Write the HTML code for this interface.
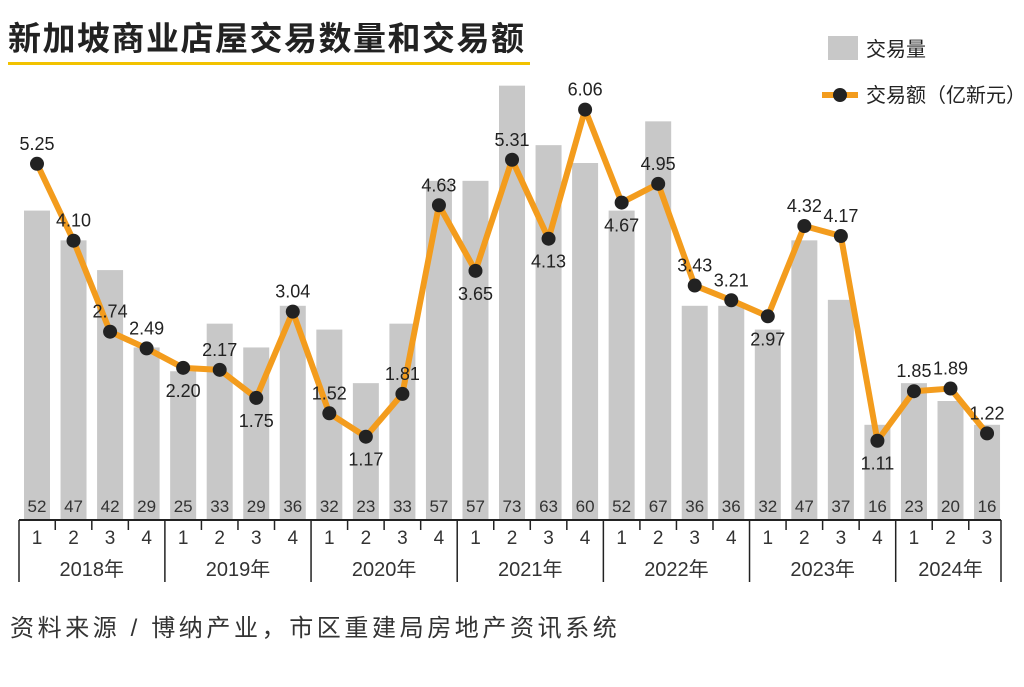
<!DOCTYPE html>
<html><head><meta charset="utf-8"><style>
body{margin:0;background:#fff;}
svg text{font-family:"Liberation Sans","Noto Sans CJK SC",sans-serif;}
</style></head><body>
<svg width="1024" height="682" viewBox="0 0 1024 682">
<text x="8" y="50" font-size="33" font-weight="bold" fill="#222" letter-spacing="1.5">新加坡商业店屋交易数量和交易额</text>
<rect x="8" y="62" width="522" height="3" fill="#f2c200"/>
<g>
<rect x="828" y="36" width="30" height="24" fill="#c8c8c8"/>
<text x="866" y="56" font-size="20" fill="#222">交易量</text>
<line x1="822" y1="95" x2="858" y2="95" stroke="#f39c1d" stroke-width="6"/>
<circle cx="840" cy="95" r="7" fill="#222"/>
<text x="866" y="102" font-size="20" fill="#222">交易额（亿新元）</text>
</g>
<g id="plot"></g>
<text x="10" y="636" font-size="24" fill="#333" letter-spacing="3.6">资料来源 / 博纳产业，市区重建局房地产资讯系统</text>
</svg>
<script>
const volumes=[52,47,42,29,25,33,29,36,32,23,33,57,57,73,63,60,52,67,36,36,32,47,37,16,23,20,16];
const values=[5.25,4.10,2.74,2.49,2.20,2.17,1.75,3.04,1.52,1.17,1.81,4.63,3.65,5.31,4.13,6.06,4.67,4.95,3.43,3.21,2.97,4.32,4.17,1.11,1.85,1.89,1.22];
const valueLabels=["5.25","4.10","2.74","2.49","2.20","2.17","1.75","3.04","1.52","1.17","1.81","4.63","3.65","5.31","4.13","6.06","4.67","4.95","3.43","3.21","2.97","4.32","4.17","1.11","1.85","1.89","1.22"];
const labelBelow=[0,0,0,0,1,0,1,0,0,1,0,0,1,0,1,0,1,0,0,0,1,0,0,1,0,0,0];
const quarters=["1","2","3","4","1","2","3","4","1","2","3","4","1","2","3","4","1","2","3","4","1","2","3","4","1","2","3"];
const years=["2018年","2019年","2020年","2021年","2022年","2023年","2024年"];
const NS="http://www.w3.org/2000/svg";
const g=document.getElementById('plot');
const step=36.54, x0=37, base=520;
const xs=i=>x0+i*step;
const yb=v=>base-v*5.95;
const yl=v=>515-v*66.9;
function mk(t,a,p){const e=document.createElementNS(NS,t);for(const k in a)e.setAttribute(k,a[k]);(p||g).appendChild(e);return e;}
volumes.forEach((v,i)=>{
 const r=mk('rect',{x:xs(i)-13,y:yb(v),width:26,height:base-yb(v),fill:'#c8c8c8'});
 
 
 const t=mk('text',{x:xs(i),y:512,'font-size':17,fill:'#333','text-anchor':'middle'});t.textContent=v;
 
 
});
mk('line',{x1:19,y1:base,x2:1001,y2:base,stroke:'#222','stroke-width':2});
quarters.forEach((q,i)=>{
 const t=mk('text',{x:xs(i),y:544,'font-size':19,fill:'#333','text-anchor':'middle'});t.textContent=q;
 
 
 if(i>0){const isYear=i%4===0;mk('line',{x1:xs(i)-step/2,y1:base,x2:xs(i)-step/2,y2:isYear?582:530,stroke:'#222','stroke-width':1.5});}
});
mk('line',{x1:19,y1:base,x2:19,y2:582,stroke:'#222','stroke-width':1.5});
mk('line',{x1:1001,y1:base,x2:1001,y2:582,stroke:'#222','stroke-width':1.5});
years.forEach((y,k)=>{
 const first=k*4,last=Math.min(k*4+3,quarters.length-1);
 const t=mk('text',{x:(xs(first)+xs(last))/2,y:576,'font-size':20,fill:'#333','text-anchor':'middle'});t.textContent=y;
 
 
});
const pl=mk('polyline',{points:values.map((v,i)=>xs(i)+','+yl(v)).join(' '),fill:'none',stroke:'#f39c1d','stroke-width':6,'stroke-linejoin':'round'});


values.forEach((v,i)=>{
 const c=mk('circle',{cx:xs(i),cy:yl(v),r:7,fill:'#222'});
 
 
 const t=mk('text',{x:xs(i),y:labelBelow[i]?yl(v)+29:yl(v)-14,'font-size':18,fill:'#222','text-anchor':'middle'});t.textContent=valueLabels[i];
 
 
});
</script>
</body></html>
